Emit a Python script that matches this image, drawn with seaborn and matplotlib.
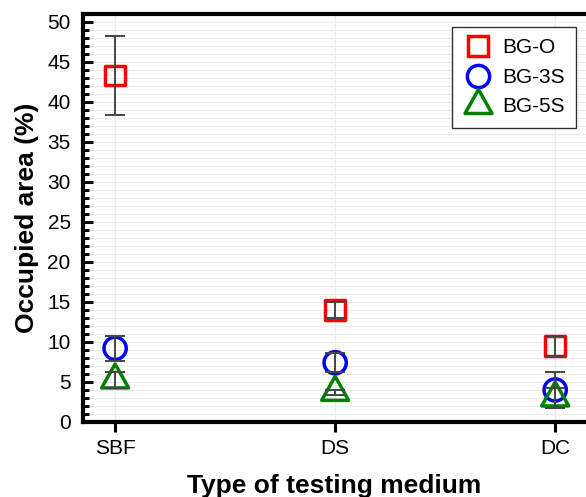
import numpy as np
import pandas as pd
import matplotlib
matplotlib.use("Agg")
import matplotlib.pyplot as plt
import seaborn as sns
from matplotlib.lines import Line2D
from matplotlib.path import Path
from matplotlib.ticker import MultipleLocator

media = ["SBF", "DS", "DC"]
series = ["BG-O", "BG-3S", "BG-5S"]
bg_o = [43.3, 14.0, 9.5]
bg_o_err = [4.9, 1.0, 1.2]
bg_3s = [9.2, 7.4, 4.0]
bg_3s_err = [1.55, 1.2, 2.3]
bg_5s = [5.25, 3.7, 3.0]
bg_5s_err = [1.05, 0.35, 1.3]

sns.set_style("white")
plt.rcParams["font.family"] = ["Liberation Sans", "DejaVu Sans"]
plt.rcParams["text.color"] = "black"
plt.rcParams["axes.labelcolor"] = "black"
plt.rcParams["xtick.color"] = "black"
plt.rcParams["ytick.color"] = "black"

colors = {"BG-O": "#FF0000", "BG-3S": "#0000FF", "BG-5S": "#008000"}
tri = Path([(0, 16), (-13.5, -8), (13.5, -8), (0, 16)],
           [Path.MOVETO, Path.LINETO, Path.LINETO, Path.CLOSEPOLY])
markers = {"BG-O": "s", "BG-3S": "o", "BG-5S": tri}
sizes = {"BG-O": 14, "BG-3S": 16, "BG-5S": 23}

df = pd.DataFrame({
    "medium": media * 3,
    "series": np.repeat(series, 3),
    "value": bg_o + bg_3s + bg_5s,
    "err": bg_o_err + bg_3s_err + bg_5s_err,
})
df["x"] = df["medium"].map({m: i for i, m in enumerate(media)})

fig = plt.figure(figsize=(5.86, 4.97), dpi=100)
ax = fig.add_axes([0.142, 0.151, 0.858, 0.821])

for s in series:
    sub = df[df["series"] == s]
    sns.scatterplot(data=sub, x="x", y="value", marker=markers[s],
                    s=sizes[s] ** 2, color=colors[s], facecolor="none",
                    edgecolor=colors[s], linewidth=2.5, ax=ax, zorder=3,
                    legend=False)
for coll in ax.collections:
    coll.set_facecolor("none")

for s in series:
    sub = df[df["series"] == s]
    ax.errorbar(sub["x"], sub["value"], yerr=sub["err"], fmt="none",
                ecolor="#454545", elinewidth=1.4, capsize=7.5, capthick=1.4,
                zorder=4)

ax.set_xlim(-0.145, 2.14)
ax.set_ylim(0, 51)
ax.set_xticks(range(len(media)))
ax.set_xticklabels(media)
ax.yaxis.set_major_locator(MultipleLocator(5))
ax.yaxis.set_minor_locator(MultipleLocator(1))

ax.grid(True, which="both", axis="y", color="#ebebeb", linewidth=0.8, zorder=0)
ax.grid(True, which="major", axis="x", color="#ebebeb", linewidth=0.8, zorder=0)
ax.set_axisbelow(True)

for side in ["left", "bottom", "top"]:
    ax.spines[side].set_linewidth(3)
    ax.spines[side].set_color("black")
ax.spines["right"].set_visible(False)

ax.tick_params(axis="y", which="both", left=True, right=False)
ax.tick_params(axis="x", which="both", bottom=True, top=False)
ax.tick_params(axis="y", which="major", direction="in", length=7, width=2.2,
               labelsize=15, pad=9, colors="black")
ax.tick_params(axis="y", which="minor", direction="in", length=4, width=2.2,
               colors="black")
ax.tick_params(axis="x", which="major", direction="out", length=7, width=2.2,
               labelsize=15, pad=5, colors="black")

ax.set_xlabel("Type of testing medium", fontsize=19, fontweight="bold", labelpad=12)
ax.set_ylabel("Occupied area (%)", fontsize=19, fontweight="bold", labelpad=6)

handles = [Line2D([], [], linestyle="none", marker=markers[s],
                  markersize=sizes[s],
                  markerfacecolor="none", markeredgecolor=colors[s],
                  markeredgewidth=2.5) for s in series]
leg = ax.legend(handles, series, loc="upper right", fontsize=15,
                bbox_to_anchor=(0.98, 0.968), borderaxespad=0, frameon=True,
                fancybox=False, edgecolor="#333333", framealpha=1,
                handletextpad=0.45, labelspacing=0.5, borderpad=0.55,
                handlelength=1.4)
leg.get_frame().set_linewidth(1.0)

fig.savefig("out.png", dpi=100)
